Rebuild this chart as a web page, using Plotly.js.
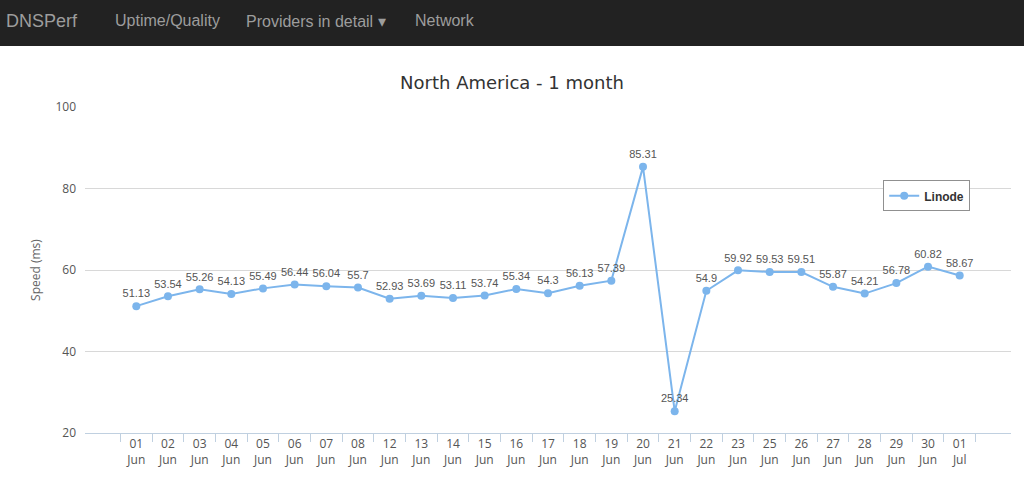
<!DOCTYPE html>
<html><head><meta charset="utf-8">
<script src="https://cdn.plot.ly/plotly-3.0.1.min.js"></script>
<style>
body{margin:0;width:1024px;height:486px;overflow:hidden;background:#fff;font-family:"Liberation Sans",Arial,sans-serif}
#nav{height:46px;background:#222;color:#9d9d9d;font-size:16px;position:relative}
#nav span{position:absolute;top:12px}
#chart{width:1024px;height:440px}
</style></head><body>
<div id="nav"><span style="left:6px;font-size:18px;top:11px">DNSPerf</span><span style="left:115px">Uptime/Quality</span><span style="left:246px">Providers in detail &#9662;</span><span style="left:415px">Network</span></div>
<div id="chart"></div>
<script>
const days=["01","02","03","04","05","06","07","08","12","13","14","15","16","17","18","19","20","21","22","23","25","26","27","28","29","30","01"];
const months=["Jun","Jun","Jun","Jun","Jun","Jun","Jun","Jun","Jun","Jun","Jun","Jun","Jun","Jun","Jun","Jun","Jun","Jun","Jun","Jun","Jun","Jun","Jun","Jun","Jun","Jun","Jul"];
const linode=[51.13,53.54,55.26,54.13,55.49,56.44,56.04,55.7,52.93,53.69,53.11,53.74,55.34,54.3,56.13,57.39,85.31,25.34,54.9,59.92,59.53,59.51,55.87,54.21,56.78,60.82,58.67];
const cats=days.map((d,i)=>d+"<br>"+months[i]);
Plotly.newPlot("chart",[{x:cats,y:linode,type:"scatter",mode:"lines+markers+text",name:"<b>Linode</b>",
 text:linode.map(String),textposition:"top center",textfont:{size:11,color:"#555",family:"Liberation Sans, Arial"},
 line:{color:"#7cb5ec",width:2},marker:{color:"#7cb5ec",size:8},cliponaxis:false}],
{width:1024,height:440,margin:{l:85,r:13,t:61,b:53},paper_bgcolor:"#fff",plot_bgcolor:"#fff",
 title:{text:"North America - 1 month",x:0.5,y:0.93,xanchor:"center",font:{family:"DejaVu Sans",size:18,color:"#333"}},
 xaxis:{type:"category",automargin:false,tickson:"boundaries",ticks:"outside",ticklen:8,tickcolor:"#c0d0e0",showline:true,linecolor:"#c0d0e0",showgrid:false,tickfont:{size:12,color:"#555"}},
 yaxis:{range:[20,100],automargin:false,dtick:20,gridcolor:"#d8d8d8",zeroline:false,ticklabelstandoff:8,tickfont:{size:12,color:"#555"},
  title:{text:"Speed (ms)",standoff:12,font:{size:12,color:"#666"}}},
 showlegend:true,legend:{x:0.862,y:0.775,xanchor:"left",yanchor:"top",bgcolor:"#fff",bordercolor:"#909090",borderwidth:1,font:{size:12,color:"#333",family:"Liberation Sans"}}
},{displayModeBar:false,staticPlot:true});
</script></body></html>
